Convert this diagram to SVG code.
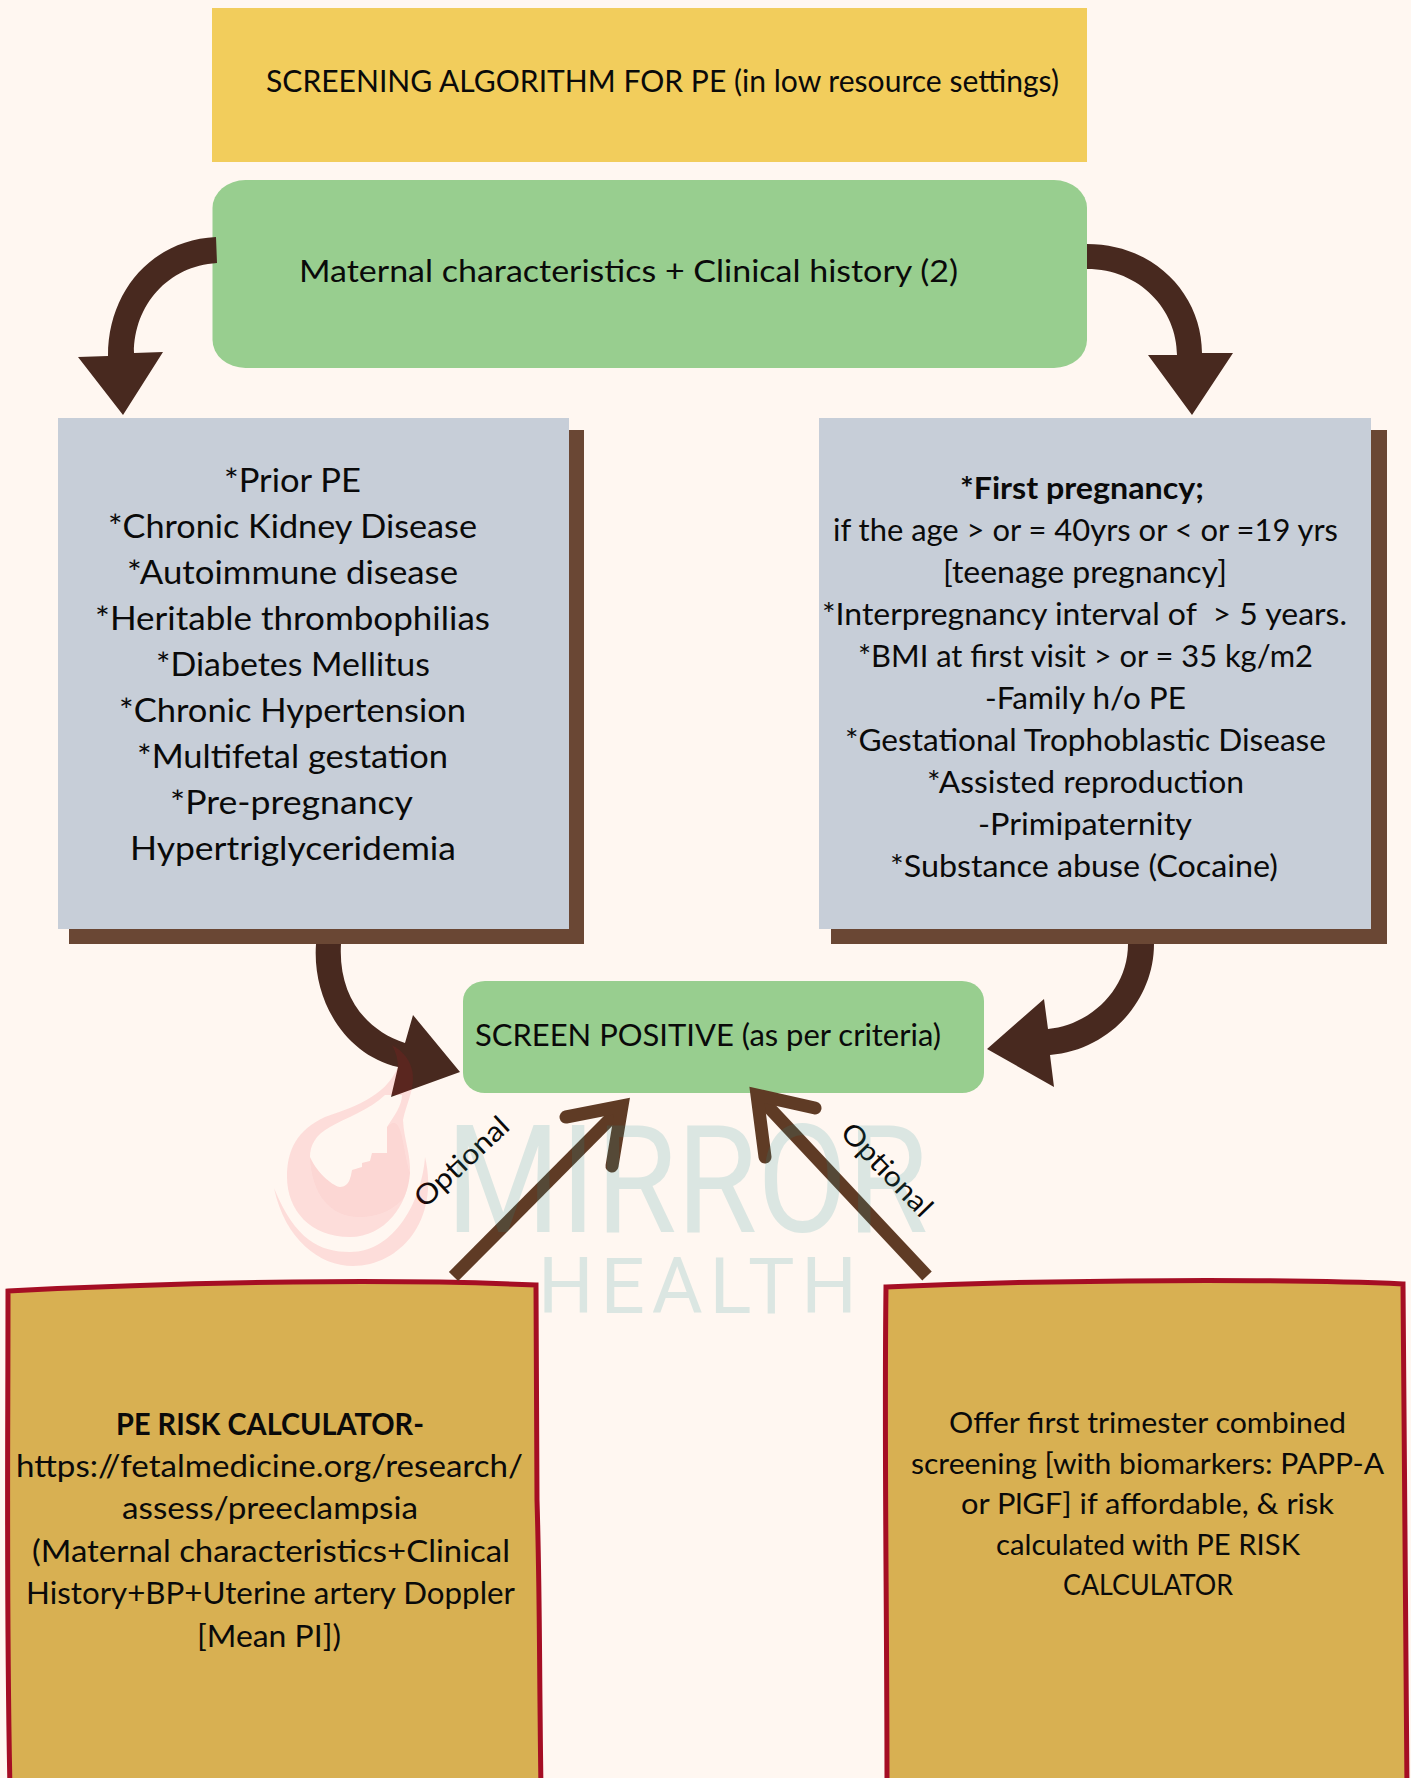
<svg xmlns="http://www.w3.org/2000/svg" width="1411" height="1778" viewBox="0 0 1411 1778">
<style>
text{font-family:"Lato","Liberation Sans",sans-serif;fill:#0a0a0a;white-space:pre}
.a{font-size:33px}.b{font-size:30px}.c{font-size:31px}.d{font-size:29px}.h{font-weight:bold}
.arr{fill:#48291f}.opt{fill:none;stroke:#5f3b25;stroke-width:13}
.shadow{fill:#6a4734}.grey{fill:#c7ced8}.green{fill:#98ce8f}
.gold{fill:#d8b052;stroke:#a50e24;stroke-width:5}
.wm{fill:#259396;font-family:Roboto,sans-serif;opacity:.16}
.logo{fill:#ef1021;opacity:.11}
</style>
<rect width="1411" height="1778" fill="#fff7f1"/>
<g id="title"><rect x="212" y="8" width="875" height="154" fill="#f2cd5c"/>
<text class="c" x="266" y="92" textLength="793" lengthAdjust="spacingAndGlyphs">SCREENING ALGORITHM FOR PE (in low resource settings)</text></g>
<g id="maternal"><rect class="green" x="212.500" y="180" width="874.500" height="188" rx="33" ry="28"/>
<text class="c" x="299" y="282" textLength="659" lengthAdjust="spacingAndGlyphs">Maternal characteristics + Clinical history (2)</text></g>
<g id="risk-left"><rect class="shadow" x="69" y="430" width="515" height="514"/><rect class="grey" x="58" y="418" width="511" height="511"/>
<text class="a" x="224" y="492" textLength="137" lengthAdjust="spacingAndGlyphs">*Prior PE</text>
<text class="a" x="108" y="538" textLength="369" lengthAdjust="spacingAndGlyphs">*Chronic Kidney Disease</text>
<text class="a" x="127" y="584" textLength="331" lengthAdjust="spacingAndGlyphs">*Autoimmune disease</text>
<text class="a" x="95" y="630" textLength="395" lengthAdjust="spacingAndGlyphs">*Heritable thrombophilias</text>
<text class="a" x="156" y="676" textLength="274" lengthAdjust="spacingAndGlyphs">*Diabetes Mellitus</text>
<text class="a" x="119" y="722" textLength="347" lengthAdjust="spacingAndGlyphs">*Chronic Hypertension</text>
<text class="a" x="137" y="768" textLength="311" lengthAdjust="spacingAndGlyphs">*Multifetal gestation</text>
<text class="a" x="170" y="814" textLength="243" lengthAdjust="spacingAndGlyphs">*Pre-pregnancy</text>
<text class="a" x="130" y="860" textLength="326" lengthAdjust="spacingAndGlyphs">Hypertriglyceridemia</text></g>
<g id="risk-right"><rect class="shadow" x="831" y="430" width="556" height="514"/><rect class="grey" x="819" y="418" width="552" height="511"/>
<text class="b h" x="960" y="499" textLength="244" lengthAdjust="spacingAndGlyphs">*First pregnancy;</text>
<text class="b" x="833" y="541" textLength="505" lengthAdjust="spacingAndGlyphs">if the age &gt; or = 40yrs or &lt; or =19 yrs</text>
<text class="b" x="943" y="583" textLength="284" lengthAdjust="spacingAndGlyphs">[teenage pregnancy]</text>
<text class="b" x="822" y="625" textLength="525" lengthAdjust="spacingAndGlyphs">*Interpregnancy interval of  &gt; 5 years.</text>
<text class="b" x="858" y="667" textLength="455" lengthAdjust="spacingAndGlyphs">*BMI at first visit &gt; or = 35 kg/m2</text>
<text class="b" x="985" y="709" textLength="201" lengthAdjust="spacingAndGlyphs">-Family h/o PE</text>
<text class="b" x="845" y="751" textLength="481" lengthAdjust="spacingAndGlyphs">*Gestational Trophoblastic Disease</text>
<text class="b" x="927" y="793" textLength="317" lengthAdjust="spacingAndGlyphs">*Assisted reproduction</text>
<text class="b" x="978" y="835" textLength="214" lengthAdjust="spacingAndGlyphs">-Primipaternity</text>
<text class="b" x="890" y="877" textLength="388" lengthAdjust="spacingAndGlyphs">*Substance abuse (Cocaine)</text></g>
<g id="screen-positive"><rect class="green" x="463" y="981" width="521" height="112" rx="22" ry="20"/>
<text class="b" x="475" y="1046" textLength="466" lengthAdjust="spacingAndGlyphs">SCREEN POSITIVE (as per criteria)</text></g>
<g id="calculator"><path class="gold" d="M8 1291C8 1450 6 1600 10 1790L541 1790C539 1650 540 1600 537 1500L536 1285C400 1279 200 1281 8 1291Z"/>
<text class="c h" x="116" y="1435" textLength="308" lengthAdjust="spacingAndGlyphs">PE RISK CALCULATOR-</text>
<text class="c" x="16" y="1477" textLength="507" lengthAdjust="spacingAndGlyphs">https://fetalmedicine.org/research/</text>
<text class="c" x="122" y="1519" textLength="296" lengthAdjust="spacingAndGlyphs">assess/preeclampsia</text>
<text class="c" x="32" y="1562" textLength="478" lengthAdjust="spacingAndGlyphs">(Maternal characteristics+Clinical</text>
<text class="c" x="26" y="1604" textLength="489" lengthAdjust="spacingAndGlyphs">History+BP+Uterine artery Doppler</text>
<text class="c" x="197" y="1647" textLength="144" lengthAdjust="spacingAndGlyphs">[Mean PI])</text></g>
<g id="first-trimester"><path class="gold" d="M886 1287C884 1450 887 1600 887 1790L1407 1790C1406 1650 1404 1500 1403 1284C1300 1279 1050 1279 886 1287Z"/>
<text class="d" x="949" y="1433" textLength="397" lengthAdjust="spacingAndGlyphs">Offer first trimester combined</text>
<text class="d" x="911" y="1474" textLength="473" lengthAdjust="spacingAndGlyphs">screening [with biomarkers: PAPP-A</text>
<text class="d" x="961" y="1514" textLength="373" lengthAdjust="spacingAndGlyphs">or PlGF] if affordable, &amp; risk</text>
<text class="d" x="996" y="1555" textLength="304" lengthAdjust="spacingAndGlyphs">calculated with PE RISK</text>
<text class="d" x="1063" y="1595" textLength="170" lengthAdjust="spacingAndGlyphs">CALCULATOR</text></g>
<g id="connectors">
<path class="arr" d="M216 237C153 240 108 290 108 356L78 357L123 415L163 352L134 353C134 305 168 266 217 263Z"/>
<path class="arr" d="M1087 244C1155 244 1202 295 1202 353L1233 353L1192 415L1148 355L1177 355C1177 310 1140 269 1087 269Z"/>
<path class="arr" d="M316 944C312 1000 345 1055 398 1067L391 1097L460 1072L413 1015L405 1043C365 1030 338 995 341 944Z"/>
<path class="arr" d="M1154 944C1154 1000 1110 1050 1050 1055L1054 1087L987 1049L1044 999L1048 1029C1090 1025 1128 990 1128 944Z"/>
<line class="opt" x1="453.500" y1="1276.500" x2="619" y2="1110"/>
<polyline class="opt" stroke-linecap="round" points="566,1117 622,1106 612,1166"/>
<line class="opt" x1="927" y1="1276" x2="761" y2="1099"/>
<polyline class="opt" stroke-linecap="round" points="815,1108 757,1095 765,1157"/>
<text style="font-size:28px" transform="translate(425 1209) rotate(-43)" textLength="118" lengthAdjust="spacingAndGlyphs">Optional</text>
<text style="font-size:28px" transform="translate(839 1134) rotate(46)" textLength="118" lengthAdjust="spacingAndGlyphs">Optional</text>
</g>
<g id="watermark">
<path class="logo" fill-rule="evenodd" d="M392 1045C405 1052 414 1065 413 1080C412 1095 406 1105 403 1120C404 1140 411 1155 410 1173C408 1205 385 1237 350 1237C310 1237 287 1210 287 1177C287 1150 297 1130 325 1117C350 1108 385 1098 398 1067C398 1060 396 1052 392 1045ZM385 1095C370 1110 345 1118 330 1127C315 1135 310 1146 310 1157C318 1175 335 1187 340 1187C350 1187 351 1175 352 1170L362 1167L362 1163L370 1161L372 1153L387 1153L387 1127C395 1115 402 1105 402 1095Z"/>
<path class="logo" d="M310 1157C318 1175 335 1187 340 1187C350 1187 351 1175 352 1170L362 1167L362 1163L370 1161L372 1153L387 1153L387 1127C403 1110 402 1150 410 1173C408 1190 405 1197 402 1200C390 1212 375 1217 360 1217C330 1217 312 1195 310 1157Z" style="opacity:.03"/>
<path class="logo" d="M274 1188C285 1240 320 1266 353 1266C400 1266 440 1220 425 1157C422 1200 395 1252 350 1252C320 1252 295 1240 274 1188Z"/>
<text class="wm" x="446" y="1232" font-size="150" textLength="482" lengthAdjust="spacingAndGlyphs">MIRROR</text>
<text class="wm" x="538" y="1313" font-size="78" textLength="319" lengthAdjust="spacing">HEALTH</text>
</g>
</svg>
